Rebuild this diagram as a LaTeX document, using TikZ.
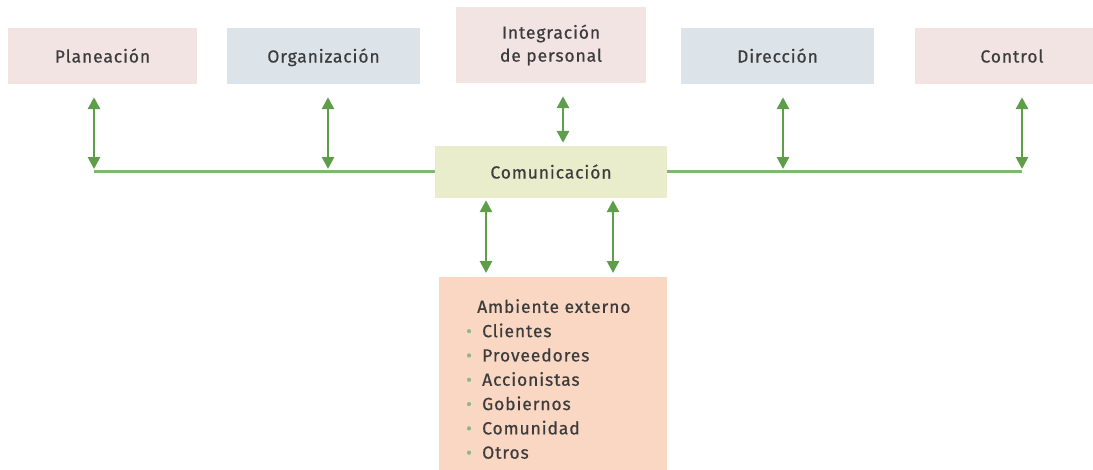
\documentclass[tikz,border=0pt]{standalone}
\usepackage{fontspec}
\setmainfont{Fira Sans}
\newfontfamily\lblfont[LetterSpace=5, FakeBold=0.6]{Fira Sans}
\usetikzlibrary{arrows.meta}
\definecolor{pinkbox}{HTML}{F3E4E4}
\definecolor{bluebox}{HTML}{DDE4E9}
\definecolor{combox}{HTML}{E9EDCC}
\definecolor{ambbox}{HTML}{F9D7C2}
\definecolor{arrowgreen}{HTML}{5E9E4A}
\definecolor{linegreen}{HTML}{80B672}
\definecolor{bulletc}{HTML}{8DB87E}
\definecolor{txt}{HTML}{3C3C3C}
\begin{document}
\begin{tikzpicture}[x=1pt,y=-1pt,
  box/.style={inner sep=0pt, text=txt, align=center,
    font=\lblfont\fontsize{17.5}{23}\selectfont},
  onebox/.style={box, text height=13pt, text depth=0pt},
  biarrow/.style={draw=arrowgreen, line width=2.8pt,
    {Triangle[width=12pt,length=12pt]}-{Triangle[width=12pt,length=12pt]}},
  hline/.style={draw=linegreen, line width=3pt}
]
\useasboundingbox (0,0) rectangle (1093,469);
\begin{scope}
\clip (0,0) rectangle (1093,469);
% top boxes
\node[onebox, fill=pinkbox, minimum width=189pt, minimum height=56pt] (plan) at (102.5,56) {Planeación};
\node[onebox, fill=bluebox, minimum width=193pt, minimum height=56pt] (org) at (323.5,56) {Organización};
\node[box, fill=pinkbox, minimum width=190pt, minimum height=76pt] (integ) at (551,45) {Integración\\de personal};
\node[onebox, fill=bluebox, minimum width=193pt, minimum height=56pt] (dir) at (777.5,56) {Dirección};
\node[onebox, fill=pinkbox, minimum width=194pt, minimum height=56pt] (ctrl) at (1012,56) {Control};
% column coordinates
\coordinate (j1) at (94,171);
\coordinate (j2) at (328,171);
\coordinate (j3) at (563,171);
\coordinate (j4) at (783,171);
\coordinate (j5) at (1022,171);
\coordinate (l1) at (486,0);
\coordinate (l2) at (613,0);
% horizontal line
\draw[hline] (j1) -- (j5);
% communication
\node[onebox, fill=combox, minimum width=232pt, minimum height=52pt] (com) at (551,172) {Comunicación};
% external environment
\node[fill=ambbox, minimum width=228pt, minimum height=210pt, inner sep=0pt, anchor=north] (amb) at (553,277) {};
\node[anchor=north west, inner sep=0pt, text=txt, align=left,
  font=\lblfont\fontsize{17.5}{24.3}\selectfont] (ambtext) at (466,299)
  {\hspace{11pt}Ambiente externo\\
   \makebox[16pt][l]{\color{bulletc}•}Clientes\\
   \makebox[16pt][l]{\color{bulletc}•}Proveedores\\
   \makebox[16pt][l]{\color{bulletc}•}Accionistas\\
   \makebox[16pt][l]{\color{bulletc}•}Gobiernos\\
   \makebox[16pt][l]{\color{bulletc}•}Comunidad\\
   \makebox[16pt][l]{\color{bulletc}•}Otros};
% arrows
\draw[biarrow, shorten <=13pt, shorten >=2pt] (plan.south -| j1) -- (j1);
\draw[biarrow, shorten <=13pt, shorten >=2pt] (org.south -| j2) -- (j2);
\draw[biarrow, shorten <=13pt, shorten >=3pt] (integ.south -| j3) -- (com.north -| j3);
\draw[biarrow, shorten <=13pt, shorten >=2pt] (dir.south -| j4) -- (j4);
\draw[biarrow, shorten <=13pt, shorten >=2pt] (ctrl.south -| j5) -- (j5);
\draw[biarrow, shorten <=2pt, shorten >=4pt] (com.south -| l1) -- (amb.north -| l1);
\draw[biarrow, shorten <=2pt, shorten >=4pt] (com.south -| l2) -- (amb.north -| l2);
\end{scope}
\end{tikzpicture}
\end{document}
